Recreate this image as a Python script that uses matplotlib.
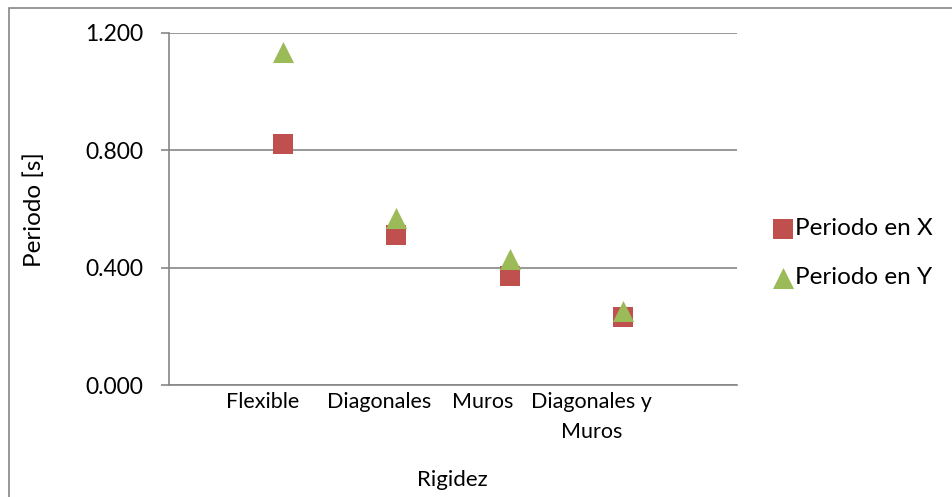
import numpy as np
import matplotlib.pyplot as plt
from matplotlib.patches import Rectangle

plt.rcParams['font.family'] = ['Lato', 'DejaVu Sans']

categorias = ['Flexible', 'Diagonales', 'Muros', 'Diagonales y\nMuros']
periodo_x = [0.820, 0.513, 0.372, 0.232]
periodo_y = [1.135, 0.571, 0.430, 0.252]
yticks = [0.0, 0.4, 0.8, 1.2]

def draw():
    fig = plt.figure(figsize=(9.53, 4.97), dpi=100)
    ax = fig.add_axes([169 / 953, 1 - 385 / 497, (737 - 169) / 953, (385 - 33) / 497])

    # marco exterior del grafico
    fig.patches.append(Rectangle((9 / 953, -0.1), 1.2, 1 - 8 / 497 + 0.1,
                                 transform=fig.transFigure, fill=False,
                                 edgecolor='#868686', linewidth=1.2))

    x = np.arange(1, len(categorias) + 1)
    ax.scatter(x, periodo_x, marker='s', s=200, color='#C0504D', label='Periodo en X', zorder=3, linewidths=0)
    ax.scatter(x, periodo_y, marker='^', s=230, color='#9BBB59', label='Periodo en Y', zorder=4, linewidths=0)

    ax.set_xlim(0, 5)
    ax.set_ylim(0, 1.2)
    ax.set_yticks(yticks)
    ax.set_yticklabels(['%.3f' % v for v in yticks], fontsize=16.5)

    # Excel desplaza las etiquetas un poco a la izquierda de cada punto
    label_pos = x - np.array([0.18, 0.15, 0.24, 0.28])
    ax.set_xticks(label_pos)
    ax.set_xticklabels(categorias, fontsize=15.5, linespacing=1.6)
    ax.tick_params(axis='x', length=0, pad=5)
    ax.tick_params(axis='y', length=5.8, color='#868686', width=1.2, pad=13)

    ax.yaxis.grid(True, color='#868686', linewidth=1.2)
    ax.set_axisbelow(True)
    for s in ['top', 'right']:
        ax.spines[s].set_visible(False)
    for s in ['left', 'bottom']:
        ax.spines[s].set_color('#868686')
        ax.spines[s].set_linewidth(1.2)

    fig.text(452 / 953, 1 - 480 / 497, 'Rigidez', ha='center', va='center', fontsize=16)
    fig.text(34 / 953, 1 - 210 / 497, 'Periodo [s]', ha='center', va='center', rotation=90, fontsize=17.5)

    ax.legend(loc='center left', bbox_to_anchor=(759 / 953, 1 - 253 / 497),
              bbox_transform=fig.transFigure, frameon=False, fontsize=17.5,
              handletextpad=0.0, labelspacing=1.15, handlelength=1.0, borderpad=0)

    fig.savefig('out.png', dpi=100)

if __name__ == "__main__":
    draw()
